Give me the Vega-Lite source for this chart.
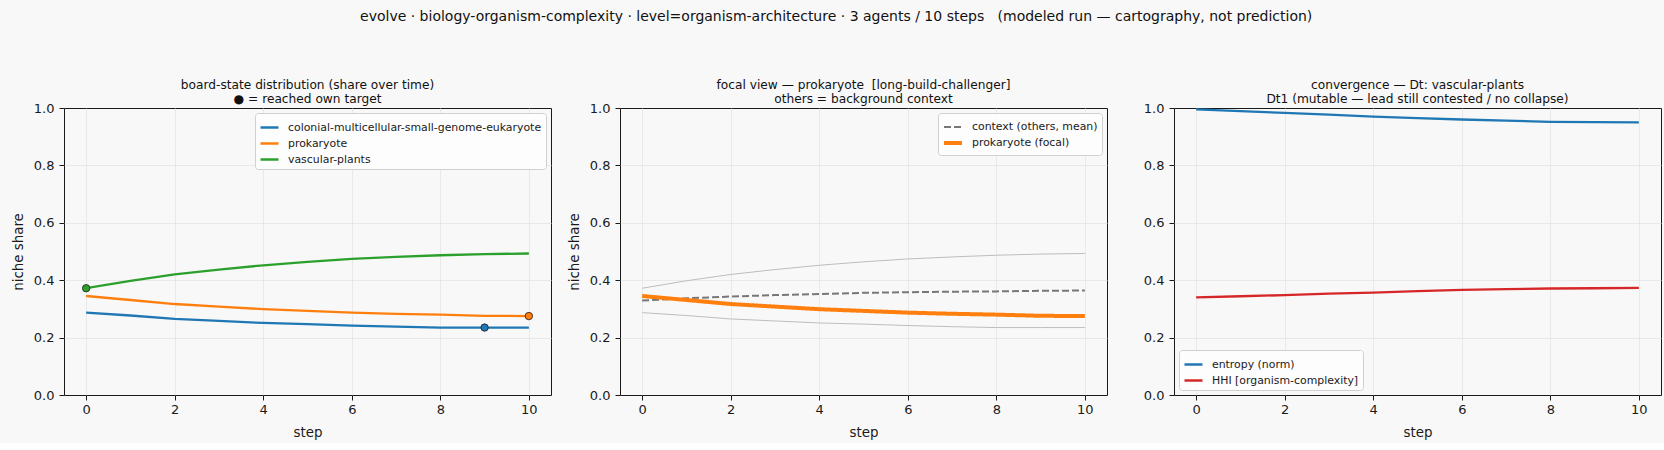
{
  "$schema": "https://vega.github.io/schema/vega-lite/v6.json",
  "background": "#f8f8f8",
  "padding": {"left": 10, "top": 10, "right": 4, "bottom": 4},
  "title": {
    "text": "evolve · biology-organism-complexity · level=organism-architecture · 3 agents / 10 steps \u00a0\u00a0(modeled run — cartography, not prediction)",
    "fontSize": 14,
    "fontWeight": "normal",
    "color": "#111",
    "anchor": "middle",
    "offset": 54
  },
  "datasets": {
    "shares": [
      {"step": 0, "agent": "colonial-multicellular-small-genome-eukaryote", "share": 0.287},
      {"step": 1, "agent": "colonial-multicellular-small-genome-eukaryote", "share": 0.277},
      {"step": 2, "agent": "colonial-multicellular-small-genome-eukaryote", "share": 0.265},
      {"step": 3, "agent": "colonial-multicellular-small-genome-eukaryote", "share": 0.258},
      {"step": 4, "agent": "colonial-multicellular-small-genome-eukaryote", "share": 0.251},
      {"step": 5, "agent": "colonial-multicellular-small-genome-eukaryote", "share": 0.247},
      {"step": 6, "agent": "colonial-multicellular-small-genome-eukaryote", "share": 0.242},
      {"step": 7, "agent": "colonial-multicellular-small-genome-eukaryote", "share": 0.238},
      {"step": 8, "agent": "colonial-multicellular-small-genome-eukaryote", "share": 0.235},
      {"step": 9, "agent": "colonial-multicellular-small-genome-eukaryote", "share": 0.235},
      {"step": 10, "agent": "colonial-multicellular-small-genome-eukaryote", "share": 0.235},
      {"step": 0, "agent": "prokaryote", "share": 0.345},
      {"step": 1, "agent": "prokaryote", "share": 0.331},
      {"step": 2, "agent": "prokaryote", "share": 0.317},
      {"step": 3, "agent": "prokaryote", "share": 0.308},
      {"step": 4, "agent": "prokaryote", "share": 0.299},
      {"step": 5, "agent": "prokaryote", "share": 0.293},
      {"step": 6, "agent": "prokaryote", "share": 0.287},
      {"step": 7, "agent": "prokaryote", "share": 0.283},
      {"step": 8, "agent": "prokaryote", "share": 0.28},
      {"step": 9, "agent": "prokaryote", "share": 0.276},
      {"step": 10, "agent": "prokaryote", "share": 0.275},
      {"step": 0, "agent": "vascular-plants", "share": 0.372},
      {"step": 1, "agent": "vascular-plants", "share": 0.398},
      {"step": 2, "agent": "vascular-plants", "share": 0.42},
      {"step": 3, "agent": "vascular-plants", "share": 0.437},
      {"step": 4, "agent": "vascular-plants", "share": 0.452},
      {"step": 5, "agent": "vascular-plants", "share": 0.464},
      {"step": 6, "agent": "vascular-plants", "share": 0.474},
      {"step": 7, "agent": "vascular-plants", "share": 0.481},
      {"step": 8, "agent": "vascular-plants", "share": 0.487},
      {"step": 9, "agent": "vascular-plants", "share": 0.491},
      {"step": 10, "agent": "vascular-plants", "share": 0.493}
    ],
    "targets": [
      {"step": 0, "agent": "vascular-plants", "share": 0.372},
      {"step": 9, "agent": "colonial-multicellular-small-genome-eukaryote", "share": 0.235},
      {"step": 10, "agent": "prokaryote", "share": 0.275}
    ],
    "focal": [
      {"step": 0, "series": "context (others, mean)", "share": 0.329},
      {"step": 1, "series": "context (others, mean)", "share": 0.337},
      {"step": 2, "series": "context (others, mean)", "share": 0.343},
      {"step": 3, "series": "context (others, mean)", "share": 0.348},
      {"step": 4, "series": "context (others, mean)", "share": 0.352},
      {"step": 5, "series": "context (others, mean)", "share": 0.356},
      {"step": 6, "series": "context (others, mean)", "share": 0.358},
      {"step": 7, "series": "context (others, mean)", "share": 0.36},
      {"step": 8, "series": "context (others, mean)", "share": 0.361},
      {"step": 9, "series": "context (others, mean)", "share": 0.363},
      {"step": 10, "series": "context (others, mean)", "share": 0.364},
      {"step": 0, "series": "prokaryote (focal)", "share": 0.345},
      {"step": 1, "series": "prokaryote (focal)", "share": 0.331},
      {"step": 2, "series": "prokaryote (focal)", "share": 0.317},
      {"step": 3, "series": "prokaryote (focal)", "share": 0.308},
      {"step": 4, "series": "prokaryote (focal)", "share": 0.299},
      {"step": 5, "series": "prokaryote (focal)", "share": 0.293},
      {"step": 6, "series": "prokaryote (focal)", "share": 0.287},
      {"step": 7, "series": "prokaryote (focal)", "share": 0.283},
      {"step": 8, "series": "prokaryote (focal)", "share": 0.28},
      {"step": 9, "series": "prokaryote (focal)", "share": 0.276},
      {"step": 10, "series": "prokaryote (focal)", "share": 0.275}
    ],
    "metrics": [
      {"step": 0, "metric": "entropy (norm)", "value": 0.995},
      {"step": 1, "metric": "entropy (norm)", "value": 0.989},
      {"step": 2, "metric": "entropy (norm)", "value": 0.983},
      {"step": 3, "metric": "entropy (norm)", "value": 0.977},
      {"step": 4, "metric": "entropy (norm)", "value": 0.97},
      {"step": 5, "metric": "entropy (norm)", "value": 0.965},
      {"step": 6, "metric": "entropy (norm)", "value": 0.96},
      {"step": 7, "metric": "entropy (norm)", "value": 0.956},
      {"step": 8, "metric": "entropy (norm)", "value": 0.952},
      {"step": 9, "metric": "entropy (norm)", "value": 0.951},
      {"step": 10, "metric": "entropy (norm)", "value": 0.95},
      {"step": 0, "metric": "HHI [organism-complexity]", "value": 0.34},
      {"step": 1, "metric": "HHI [organism-complexity]", "value": 0.344},
      {"step": 2, "metric": "HHI [organism-complexity]", "value": 0.348},
      {"step": 3, "metric": "HHI [organism-complexity]", "value": 0.353},
      {"step": 4, "metric": "HHI [organism-complexity]", "value": 0.357},
      {"step": 5, "metric": "HHI [organism-complexity]", "value": 0.362},
      {"step": 6, "metric": "HHI [organism-complexity]", "value": 0.366},
      {"step": 7, "metric": "HHI [organism-complexity]", "value": 0.369},
      {"step": 8, "metric": "HHI [organism-complexity]", "value": 0.371},
      {"step": 9, "metric": "HHI [organism-complexity]", "value": 0.372},
      {"step": 10, "metric": "HHI [organism-complexity]", "value": 0.373}
    ]
  },
  "config": {
    "font": "DejaVu Sans",
    "view": {"stroke": "#1a1a1a", "strokeWidth": 1, "fill": "#f8f8f8"},
    "axis": {
      "labelFontSize": 13,
      "titleFontSize": 13.4,
      "titleFontWeight": "normal",
      "labelColor": "#1a1a1a",
      "titleColor": "#1a1a1a",
      "domain": false,
      "tickColor": "#1a1a1a",
      "tickSize": 5,
      "labelPadding": 5,
      "titlePadding": 8,
      "gridColor": "#e4e4e4",
      "gridWidth": 0.8
    },
    "axisX": {"labelPadding": 3, "titlePadding": 9},
    "legend": {
      "symbolType": "stroke",
      "symbolSize": 324,
      "symbolStrokeWidth": 2.5,
      "labelFontSize": 10.9,
      "labelColor": "#1a1a1a",
      "labelOffset": 8,
      "labelLimit": 400,
      "fillColor": "#fdfdfd",
      "strokeColor": "#d0d0d0",
      "cornerRadius": 3,
      "padding": 4,
      "rowPadding": -4,
      "offset": 5
    },
    "title": {"fontSize": 12.2, "fontWeight": "normal", "color": "#111", "lineHeight": 14, "offset": -3}
  },
  "spacing": 14,
  "hconcat": [
    {
      "width": 487,
      "height": 287,
      "title": {"text": ["board-state distribution (share over time)", "● = reached own target"]},
      "layer": [
        {
          "data": {"name": "shares"},
          "mark": {"type": "line", "strokeWidth": 2.3},
          "encoding": {
            "x": {"field": "step", "type": "quantitative", "scale": {"domain": [-0.5, 10.5], "nice": false}, "axis": {"values": [0, 2, 4, 6, 8, 10], "format": "d", "title": "step"}},
            "y": {"field": "share", "type": "quantitative", "scale": {"domain": [0, 1], "nice": false}, "axis": {"values": [0, 0.2, 0.4, 0.6, 0.8, 1], "format": ".1f", "title": "niche share", "gridOpacity": {"condition": {"test": "datum.value <= 0 || datum.value >= 1", "value": 0}, "value": 1}}},
            "color": {
              "field": "agent",
              "type": "nominal",
              "scale": {"domain": ["colonial-multicellular-small-genome-eukaryote", "prokaryote", "vascular-plants"], "range": ["#1f77b4", "#ff7f0e", "#2ca02c"]},
              "legend": {"title": null, "orient": "top-right"}
            }
          }
        },
        {
          "data": {"name": "targets"},
          "mark": {"type": "point", "filled": true, "size": 55, "stroke": "#1a1a1a", "strokeWidth": 0.8, "opacity": 1},
          "encoding": {
            "x": {"field": "step", "type": "quantitative"},
            "y": {"field": "share", "type": "quantitative"},
            "fill": {
              "field": "agent",
              "type": "nominal",
              "scale": {"domain": ["colonial-multicellular-small-genome-eukaryote", "prokaryote", "vascular-plants"], "range": ["#1f77b4", "#ff7f0e", "#2ca02c"]},
              "legend": null
            }
          }
        }
      ]
    },
    {
      "spacing": 34,
      "hconcat": [
        {
          "width": 487,
          "height": 287,
          "title": {"text": ["focal view — prokaryote \u00a0[long-build-challenger]", "others = background context"]},
          "layer": [
            {
              "data": {"name": "shares"},
              "transform": [{"filter": "datum.agent !== 'prokaryote'"}],
              "mark": {"type": "line", "strokeWidth": 1, "color": "#bdbdbd"},
              "encoding": {
                "x": {"field": "step", "type": "quantitative", "scale": {"domain": [-0.5, 10.5], "nice": false}, "axis": {"values": [0, 2, 4, 6, 8, 10], "format": "d", "title": "step"}},
                "y": {"field": "share", "type": "quantitative", "scale": {"domain": [0, 1], "nice": false}, "axis": {"values": [0, 0.2, 0.4, 0.6, 0.8, 1], "format": ".1f", "title": "niche share", "gridOpacity": {"condition": {"test": "datum.value <= 0 || datum.value >= 1", "value": 0}, "value": 1}}},
                "detail": {"field": "agent", "type": "nominal"}
              }
            },
            {
              "data": {"name": "focal"},
              "mark": {"type": "line"},
              "encoding": {
                "x": {"field": "step", "type": "quantitative"},
                "y": {"field": "share", "type": "quantitative"},
                "color": {
                  "field": "series",
                  "type": "nominal",
                  "scale": {"domain": ["context (others, mean)", "prokaryote (focal)"], "range": ["#777777", "#ff7f0e"]},
                  "legend": {"title": null, "orient": "top-right"}
                },
                "strokeDash": {
                  "field": "series",
                  "type": "nominal",
                  "scale": {"domain": ["context (others, mean)", "prokaryote (focal)"], "range": [[7, 3], [1, 0]]},
                  "legend": {"title": null, "orient": "top-right"}
                },
                "strokeWidth": {
                  "field": "series",
                  "type": "nominal",
                  "scale": {"domain": ["context (others, mean)", "prokaryote (focal)"], "range": [2, 4]},
                  "legend": {"title": null, "orient": "top-right"}
                }
              }
            }
          ]
        },
        {
          "width": 487,
          "height": 287,
          "title": {"text": ["convergence — Dt: vascular-plants", "Dt1 (mutable — lead still contested / no collapse)"]},
          "data": {"name": "metrics"},
          "mark": {"type": "line", "strokeWidth": 2.3},
          "encoding": {
            "x": {"field": "step", "type": "quantitative", "scale": {"domain": [-0.5, 10.5], "nice": false}, "axis": {"values": [0, 2, 4, 6, 8, 10], "format": "d", "title": "step"}},
            "y": {"field": "value", "type": "quantitative", "scale": {"domain": [0, 1], "nice": false}, "axis": {"values": [0, 0.2, 0.4, 0.6, 0.8, 1], "format": ".1f", "title": null, "gridOpacity": {"condition": {"test": "datum.value <= 0 || datum.value >= 1", "value": 0}, "value": 1}}},
            "color": {
              "field": "metric",
              "type": "nominal",
              "scale": {"domain": ["entropy (norm)", "HHI [organism-complexity]"], "range": ["#1f77b4", "#d62728"]},
              "legend": {"title": null, "orient": "bottom-left"}
            }
          }
        }
      ],
      "resolve": {"scale": {"color": "independent", "strokeDash": "independent", "strokeWidth": "independent"}}
    }
  ],
  "resolve": {"scale": {"color": "independent", "fill": "independent", "strokeDash": "independent", "strokeWidth": "independent"}}
}
